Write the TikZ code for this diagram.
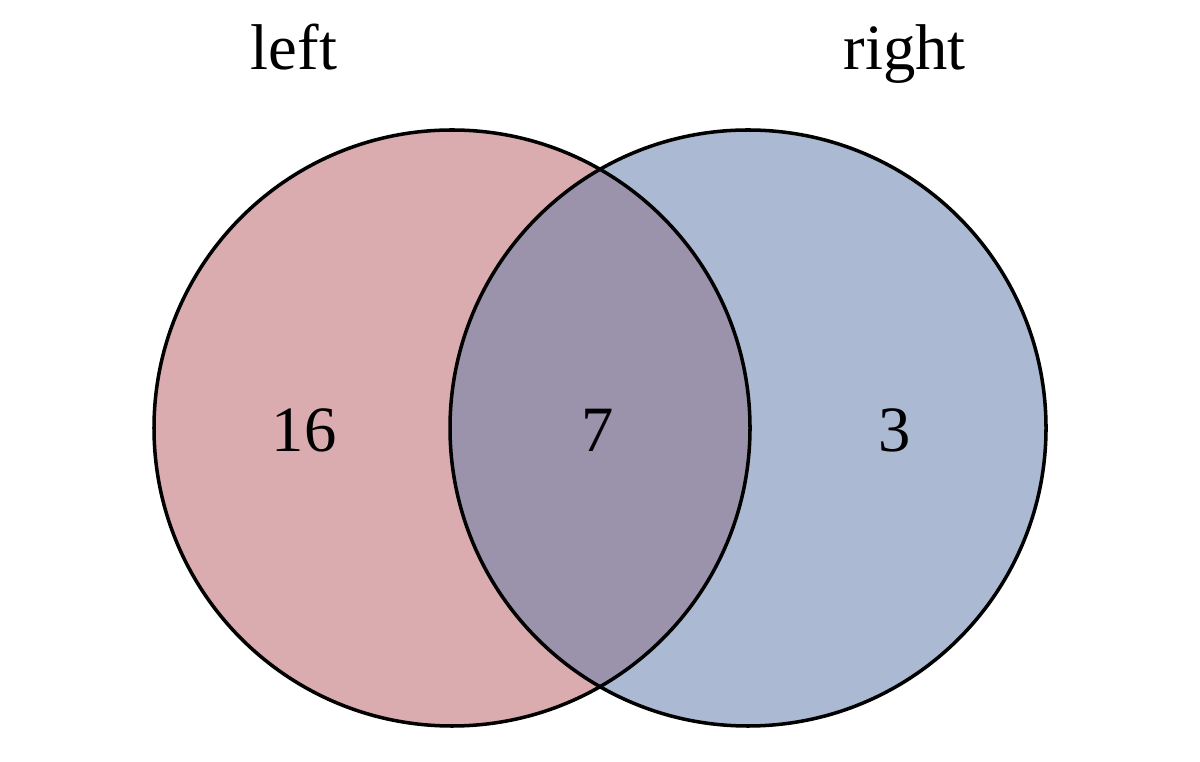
\documentclass[tikz,border=0pt]{standalone}
\usepackage{fontspec}
\setmainfont{Liberation Serif}
\usetikzlibrary{positioning}

\definecolor{leftfill}{RGB}{218,172,176}
\definecolor{rightfill}{RGB}{171,186,210}
\definecolor{bothfill}{RGB}{155,146,171}

\tikzset{
  setline/.style={draw=black, line width=2.5pt},
  setlabel/.style={font=\fontsize{46}{52}\selectfont, anchor=base},
}

\begin{document}
\begin{tikzpicture}
    \def \setRadius {7.45};

    \useasboundingbox (0,0) rectangle (30,19.025);

    % the two sets
    \coordinate (center_left) at (11.3, 8.325);
    \coordinate (center_right) at (18.7, 8.325);

    \fill[leftfill] (center_left) circle (\setRadius);
    \fill[rightfill] (center_right) circle (\setRadius);
    \begin{scope}
      \clip (center_left) circle (\setRadius);
      \fill[bothfill] (center_right) circle (\setRadius);
    \end{scope}
    \draw[setline] (center_left) circle (\setRadius);
    \draw[setline] (center_right) circle (\setRadius);

    % titles and counts
    \node[setlabel] (title_left) at (7.35, 17.275) {left};
    \node[setlabel] (title_right) at (22.62, 17.275) {right};

    \node[setlabel] (count_left) at (7.6, 7.725) {16};
    \node[setlabel] (count_both) at (14.95, 7.725) {7};
    \node[setlabel] (count_right) at (22.375, 7.725) {3};
  \end{tikzpicture}
\end{document}
